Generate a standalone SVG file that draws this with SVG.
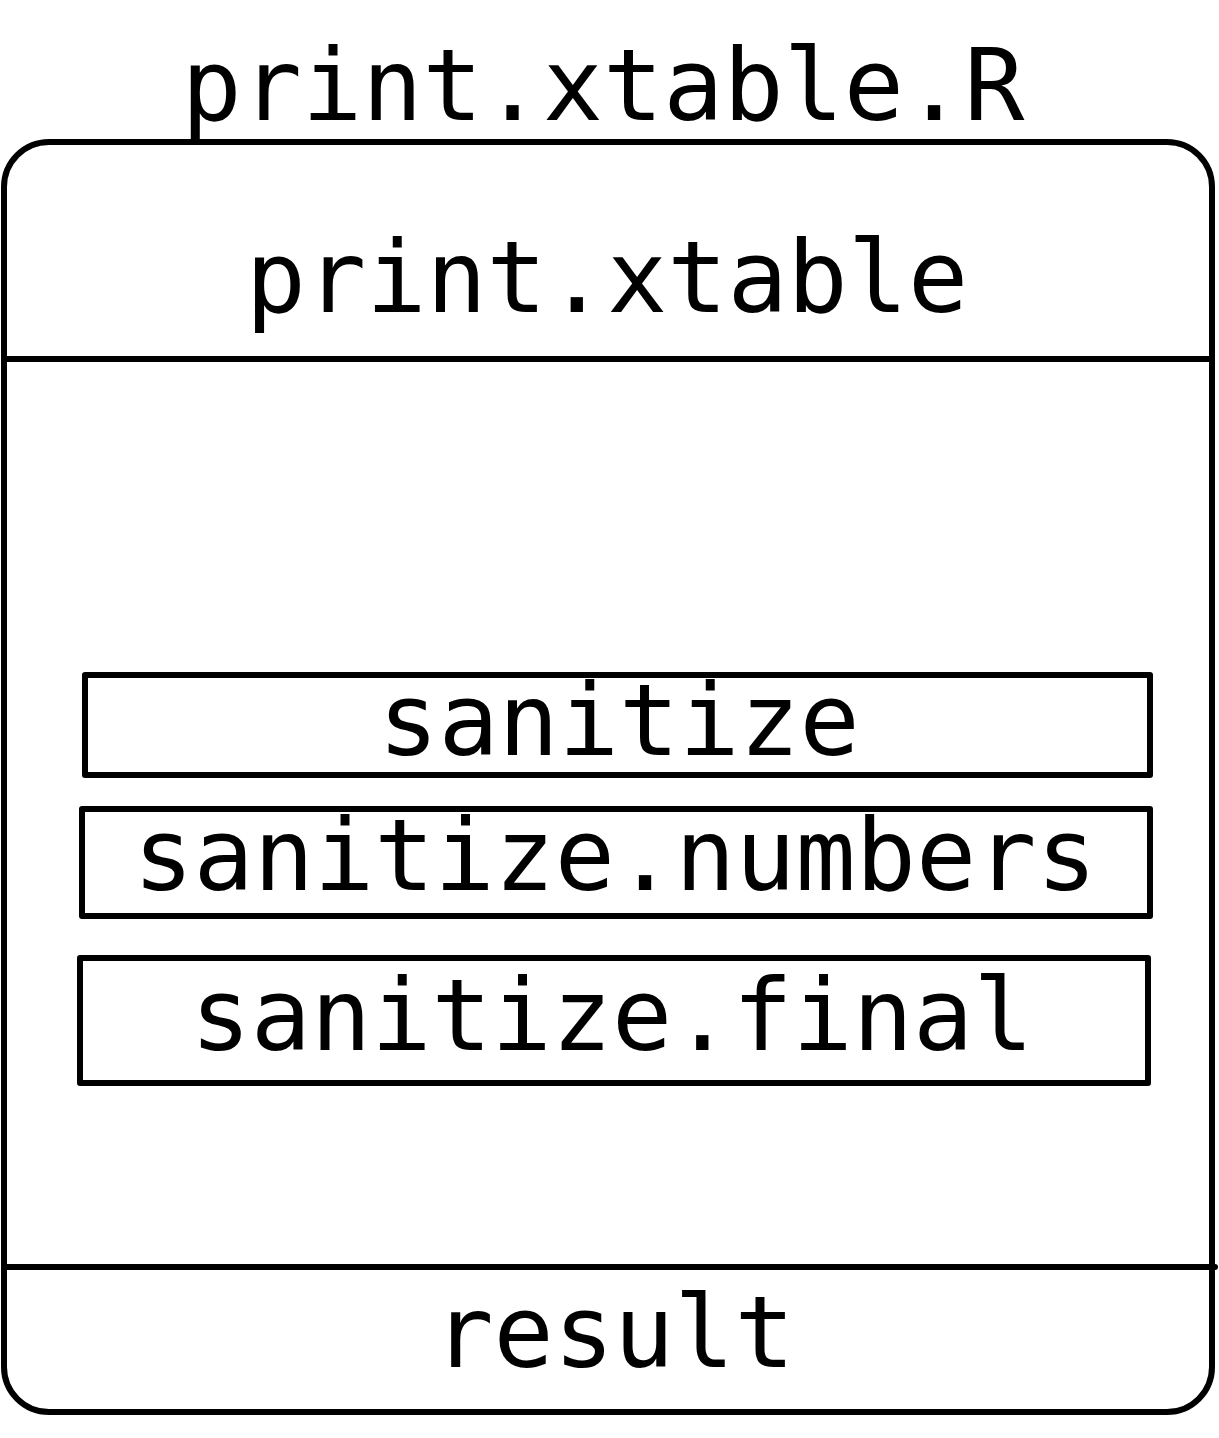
<svg xmlns="http://www.w3.org/2000/svg" width="1219" height="1438" viewBox="0 0 1219 1438">
<style>
.t{font-family:"DejaVu Sans Mono","Liberation Mono",monospace;font-size:100px;fill:#000;text-anchor:middle}
.s{fill:none;stroke:#000;stroke-width:6;stroke-linejoin:round;stroke-linecap:round}
</style>
<rect width="1219" height="1438" fill="#fff"/>
<g id="file">
<text class="t" x="603" y="120">print.xtable.R</text>
<rect class="s" x="4" y="142" width="1208" height="1270" rx="45" ry="45"/>
</g>
<g id="print_xtable">
<text class="t" x="607" y="312">print.xtable</text>
<line class="s" x1="4" y1="359" x2="1212" y2="359"/>
</g>
<g id="sanitize">
<rect class="s" x="85" y="675" width="1065" height="100"/>
<text class="t" x="619" y="755">sanitize</text>
</g>
<g id="sanitize_numbers">
<rect class="s" x="82" y="809" width="1068" height="107"/>
<text class="t" x="615" y="890">sanitize.numbers</text>
</g>
<g id="sanitize_final">
<rect class="s" x="80" y="958" width="1068" height="125"/>
<text class="t" x="612" y="1050">sanitize.final</text>
</g>
<g id="result">
<line class="s" x1="4" y1="1267" x2="1215" y2="1267"/>
<text class="t" x="614" y="1367">result</text>
</g>
<g id="connectors"></g>
</svg>
